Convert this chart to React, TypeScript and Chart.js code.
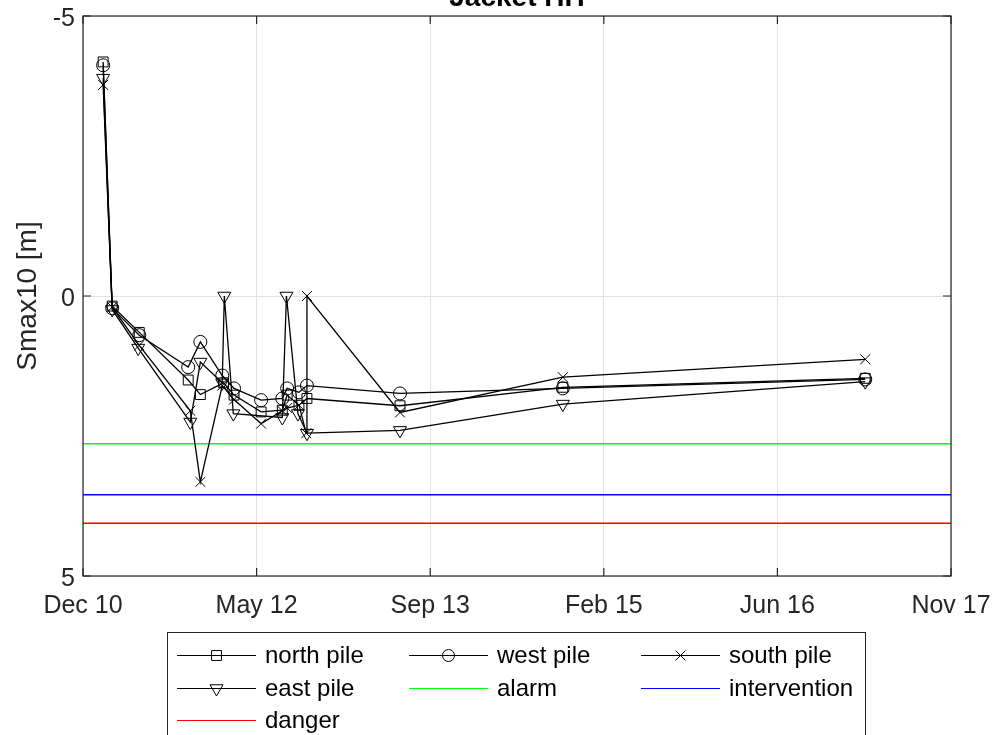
import React, { useEffect, useRef } from 'react';
import { Chart, registerables } from 'chart.js';
import { drawPoint } from 'chart.js/helpers';

Chart.register(...registerables);

// ---------- data ----------
const xTickDays = [0, 500, 1000, 1500, 2000, 2500];
const xTickLabels = ['Dec 10', 'May 12', 'Sep 13', 'Feb 15', 'Jun 16', 'Nov 17'];
const yTickValues = [-5, 0, 5];

const northDays = [58, 84, 162, 303, 338, 405, 435, 513, 574, 588, 622, 645, 913, 1382, 2253];
const northVals = [-4.18, 0.18, 0.65, 1.5, 1.76, 1.55, 1.77, 2.07, 2.04, 1.77, 1.95, 1.83, 1.96, 1.63, 1.47];

const westDays = [58, 84, 162, 303, 338, 401, 435, 513, 574, 588, 622, 645, 913, 1382, 2253];
const westVals = [-4.12, 0.22, 0.7, 1.27, 0.82, 1.42, 1.65, 1.86, 1.83, 1.65, 1.72, 1.6, 1.74, 1.65, 1.49];

const southDays = [58, 84, 162, 309, 338, 401, 435, 513, 574, 588, 622, 643, 645, 913, 1382, 2253];
const southVals = [-3.77, 0.2, 0.88, 2.05, 3.32, 1.6, 1.85, 2.28, 2.05, 2.0, 1.95, 2.45, 0, 2.08, 1.45, 1.13];

const eastDays = [58, 84, 159, 309, 338, 401, 407, 433, 574, 586, 619, 645, 913, 1382, 2253];
const eastVals = [-3.89, 0.24, 0.93, 2.25, 1.18, 1.55, 0, 2.1, 2.17, 0, 2.1, 2.45, 2.4, 1.93, 1.53];

const limitDays = [0, 2500];
const alarmLevel = 2.64;
const interventionLevel = 3.55;
const dangerLevel = 4.06;

const FONT = 'Liberation Sans, Arial, Helvetica, sans-serif';
const AXIS_COLOR = '#262626';

const toPts = (xs: number[], ys: number[]) => xs.map((x, i) => ({ x, y: ys[i] }));

type Item = { label: string; style: string; radius: number; rotation: number; color: string; marker: boolean };

const legendItems: Item[] = [
  { label: 'north pile', style: 'rect', radius: 7, rotation: 0, color: '#000', marker: true },
  { label: 'west pile', style: 'circle', radius: 6, rotation: 0, color: '#000', marker: true },
  { label: 'south pile', style: 'crossRot', radius: 7, rotation: 0, color: '#000', marker: true },
  { label: 'east pile', style: 'triangle', radius: 7.5, rotation: 180, color: '#000', marker: true },
  { label: 'alarm', style: 'line', radius: 0, rotation: 0, color: '#00ff00', marker: false },
  { label: 'intervention', style: 'line', radius: 0, rotation: 0, color: '#0000ff', marker: false },
  { label: 'danger', style: 'line', radius: 0, rotation: 0, color: '#ff0000', marker: false },
];

const framePlugin = {
  id: 'matlabFrame',
  afterDraw(chart: any) {
    const { ctx, chartArea } = chart;
    const { left, right, top, bottom } = chartArea;
    const xs = chart.scales.x;
    const ys = chart.scales.y;
    ctx.save();
    ctx.strokeStyle = AXIS_COLOR;
    ctx.lineWidth = 1.2;
    ctx.strokeRect(left, top, right - left, bottom - top);
    ctx.beginPath();
    const tl = 8;
    xTickDays.forEach((d) => {
      const px = xs.getPixelForValue(d);
      ctx.moveTo(px, bottom);
      ctx.lineTo(px, bottom - tl);
      ctx.moveTo(px, top);
      ctx.lineTo(px, top + tl);
    });
    yTickValues.forEach((v) => {
      const py = ys.getPixelForValue(v);
      ctx.moveTo(left, py);
      ctx.lineTo(left + tl, py);
      ctx.moveTo(right, py);
      ctx.lineTo(right - tl, py);
    });
    ctx.stroke();

    // title (clipped at top in the reference)
    ctx.fillStyle = '#000';
    ctx.font = `bold 28px ${FONT}`;
    ctx.textAlign = 'center';
    ctx.textBaseline = 'alphabetic';
    ctx.fillText('Jacket HH', (left + right) / 2, 6);

    // legend
    const boxL = 167.5, boxT = 632.5, boxR = 865.5, boxB = 760;
    ctx.fillStyle = '#fff';
    ctx.fillRect(boxL, boxT, boxR - boxL, boxB - boxT);
    ctx.strokeStyle = AXIS_COLOR;
    ctx.lineWidth = 1;
    ctx.strokeRect(boxL, boxT, boxR - boxL, boxB - boxT);
    const cols = [177, 409, 641];
    const rows = [655.5, 688.5, 720.5];
    ctx.font = `24px ${FONT}`;
    ctx.textAlign = 'left';
    ctx.textBaseline = 'middle';
    legendItems.forEach((it, i) => {
      const cx = cols[i % 3];
      const cy = rows[Math.floor(i / 3)];
      ctx.strokeStyle = it.color;
      ctx.lineWidth = 1;
      ctx.beginPath();
      ctx.moveTo(cx, cy);
      ctx.lineTo(cx + 79, cy);
      ctx.stroke();
      if (it.marker) {
        ctx.fillStyle = 'rgba(0,0,0,0)';
        ctx.strokeStyle = '#000';
        ctx.lineWidth = 1;
        drawPoint(ctx, { pointStyle: it.style as any, radius: it.radius, rotation: it.rotation, borderWidth: 1 }, cx + 39.5, cy);
      }
      ctx.fillStyle = '#000';
      ctx.fillText(it.label, cx + 88, cy + 1);
    });
    ctx.restore();
  },
};

function pileDataset(label: string, xs: number[], ys: number[], style: string, radius: number, rotation = 0) {
  return {
    label,
    data: toPts(xs, ys),
    showLine: true,
    borderColor: '#000',
    borderWidth: 1.3,
    backgroundColor: 'rgba(0,0,0,0)',
    pointStyle: style,
    pointRadius: radius,
    pointRotation: rotation,
    pointBorderColor: '#000',
    pointBackgroundColor: 'rgba(0,0,0,0)',
    pointBorderWidth: 1,
    tension: 0,
  };
}

function limitDataset(label: string, level: number, color: string) {
  return {
    label,
    data: toPts(limitDays, limitDays.map(() => level)),
    showLine: true,
    borderColor: color,
    borderWidth: 1.5,
    pointRadius: 0,
    backgroundColor: color,
  };
}

export default function App() {
  const ref = useRef<HTMLCanvasElement | null>(null);
  useEffect(() => {
    if (!ref.current) return;
    Chart.defaults.font.family = FONT;
    const chart = new Chart(ref.current, {
      type: 'scatter',
      data: {
        datasets: [
          pileDataset('north pile', northDays, northVals, 'rect', 7),
          pileDataset('west pile', westDays, westVals, 'circle', 6.5),
          pileDataset('south pile', southDays, southVals, 'crossRot', 7),
          pileDataset('east pile', eastDays, eastVals, 'triangle', 7.5, 180),
          limitDataset('alarm', alarmLevel, '#00ff00'),
          limitDataset('intervention', interventionLevel, '#0000ff'),
          limitDataset('danger', dangerLevel, '#ff0000'),
        ] as any,
      },
      options: {
        responsive: false,
        animation: false,
        layout: { padding: { top: 16, right: 47, left: 0, bottom: 0 } },
        plugins: { legend: { display: false }, tooltip: { enabled: false }, title: { display: false } },
        scales: {
          x: {
            type: 'linear',
            min: 0,
            max: 2500,
            afterBuildTicks: (s: any) => {
              s.ticks = xTickDays.map((v) => ({ value: v }));
            },
            afterFit: (s: any) => {
              s.height = 159;
              s.paddingLeft = 0;
              s.paddingRight = 0;
            },
            ticks: {
              autoSkip: false,
              maxRotation: 0,
              padding: 15,
              color: AXIS_COLOR,
              font: { size: 25, family: FONT },
              callback: (v: any) => {
                const i = xTickDays.indexOf(Number(v));
                return i >= 0 ? xTickLabels[i] : '';
              },
            },
            grid: { color: '#e2e2e2', lineWidth: 1, drawTicks: false },
            border: { display: false },
          },
          y: {
            type: 'linear',
            reverse: true,
            min: -5,
            max: 5,
            afterBuildTicks: (s: any) => {
              s.ticks = yTickValues.map((v) => ({ value: v }));
            },
            afterFit: (s: any) => {
              s.width = 83;
              s.paddingTop = 0;
              s.paddingBottom = 0;
            },
            ticks: {
              padding: 8,
              labelOffset: 3,
              color: AXIS_COLOR,
              font: { size: 25, family: FONT },
            },
            grid: { color: '#e2e2e2', lineWidth: 1, drawTicks: false },
            border: { display: false },
            title: {
              display: true,
              text: 'Smax10 [m]',
              color: AXIS_COLOR,
              font: { size: 28, family: FONT },
              padding: { top: 11, bottom: 0 },
            },
          },
        },
      },
      plugins: [framePlugin],
    });
    return () => chart.destroy();
  }, []);
  return (
    <div style={{ position: 'absolute', left: 0, top: 0, width: 998, height: 735, background: '#fff', overflow: 'hidden' }}>
      <canvas ref={ref} width={998} height={735} style={{ display: 'block' }} />
    </div>
  );
}
